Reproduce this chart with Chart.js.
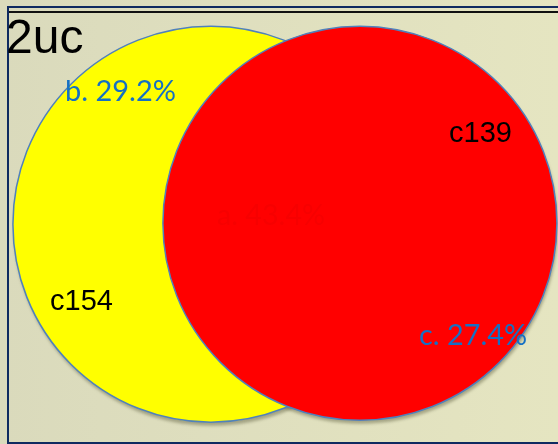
<!DOCTYPE html>
<html>
<head>
<meta charset="utf-8">
<script src="https://cdn.jsdelivr.net/npm/chart.js@4/dist/chart.umd.min.js"></script>
<style>
  html, body { margin: 0; padding: 0; background: #dfdfbf; }
  #wrap { width: 558px; height: 444px; position: relative; }
</style>
</head>
<body>
<div id="wrap"><canvas id="venn" width="558" height="444"></canvas></div>
<script>
// Two-set Venn diagram: set names, region labels and shares
const chartTitle = '2uc';
const setNames = ['c154', 'c139'];
const regionNames = ['b.', 'a.', 'c.'];          // left only, overlap, right only
const regionShares = [29.2, 43.4, 27.4];          // percent
const setCenterX = [37.8, 64.5];                  // circle centres on a 0-100 grid
const setCenterY = [49.5, 49.7];
const setRadius = [198, 197];

const fmt = (i) => regionNames[i] + ' ' + regionShares[i].toFixed(1) + '%';

const backdrop = {
  id: 'backdrop',
  beforeDraw(chart) {
    const { ctx, width, height } = chart;
    ctx.save();
    const g = ctx.createLinearGradient(0, 0, width, 0);
    g.addColorStop(0, '#dadabc');
    g.addColorStop(1, '#e5e5c1');
    ctx.fillStyle = g;
    ctx.fillRect(0, 0, width, height);
    // frame lines
    ctx.fillStyle = '#0f2a60';
    ctx.fillRect(8, 6, width - 8, 2);
    ctx.fillRect(7, 6, 2, height - 6);
    ctx.fillRect(7, height - 2, width - 7, 2);
    ctx.fillStyle = '#111111';
    ctx.fillRect(9, 11, width - 9, 2);
    ctx.restore();
  }
};

// soft drop shadow under each circle, taken from the drawn bubble elements
const shadow = {
  id: 'shadow',
  beforeDatasetsDraw(chart) {
    const ctx = chart.ctx;
    const metas = chart.getSortedVisibleDatasetMetas().slice().reverse();
    metas.forEach((meta) => {
      meta.data.forEach((el) => {
        const r = el.options.radius;
        ctx.save();
        ctx.filter = 'blur(1.5px)';
        ctx.fillStyle = 'rgba(90,90,60,0.45)';
        ctx.beginPath();
        ctx.arc(el.x + 1, el.y + 3.5, r, 0, Math.PI * 2);
        ctx.fill();
        ctx.restore();
      });
    });
  }
};

const labels = {
  id: 'labels',
  afterDatasetsDraw(chart) {
    const ctx = chart.ctx;
    ctx.save();
    ctx.textBaseline = 'alphabetic';
    ctx.textAlign = 'left';

    ctx.fillStyle = '#000000';
    ctx.font = '48px "Liberation Sans", Arial, sans-serif';
    ctx.fillText(chartTitle, 6, 53);

    ctx.font = '29px "Liberation Sans", Arial, sans-serif';
    ctx.fillText(setNames[0], 50, 310, 68);
    ctx.fillText(setNames[1], 449, 142, 70);

    ctx.font = '29px Lato, "Open Sans", sans-serif';
    ctx.fillStyle = '#1570c4';
    ctx.fillText(fmt(0), 65, 101, 111);
    ctx.fillText(fmt(2), 419, 345, 108);
    ctx.fillStyle = '#f70000';
    ctx.fillText(fmt(1), 217, 225, 108);
    ctx.restore();
  }
};

new Chart(document.getElementById('venn'), {
  type: 'bubble',
  data: {
    datasets: setNames.map((name, i) => ({
      label: name,
      data: [{ x: setCenterX[i], y: setCenterY[i], r: setRadius[i] }],
      backgroundColor: i === 0 ? '#ffff00' : '#ff0000',
      borderColor: '#4f81bd',
      borderWidth: 1.5,
      order: 2 - i,
      clip: false
    }))
  },
  options: {
    responsive: false,
    animation: false,
    events: [],
    layout: { padding: 0, autoPadding: false },
    scales: {
      x: { display: false, min: 0, max: 100 },
      y: { display: false, min: 0, max: 100 }
    },
    plugins: {
      legend: { display: false },
      tooltip: { enabled: false }
    }
  },
  plugins: [backdrop, shadow, labels]
});
</script>
</body>
</html>
